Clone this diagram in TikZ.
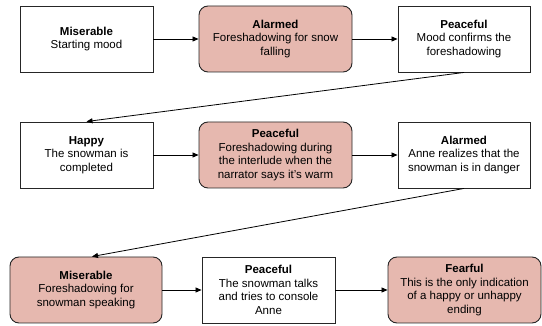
\documentclass[tikz,border=0pt]{standalone}
\usepackage{fontspec}
\setmainfont{Liberation Sans}
\usetikzlibrary{arrows.meta}
\begin{document}
\begin{tikzpicture}[x=1pt,y=-1pt,
  box/.style={draw=black!85, line width=0.9pt, fill=white, align=center, inner sep=0pt,
    font=\fontsize{11.5}{13.6}\selectfont},
  hot/.style={box, fill=pinkfill, rounded corners=9pt},
  conn/.style={draw=black, line width=0.8pt, -{Triangle[length=6pt,width=5pt]}}]
\definecolor{pinkfill}{HTML}{E6B8AF}
\useasboundingbox (0,0) rectangle (542,326);
% row 1
\node[box, minimum width=133, minimum height=66] (a) at (86.5,39) {\textbf{Miserable}\\Starting mood};
\node[hot, minimum width=153, minimum height=66] (b) at (275.5,39) {\textbf{Alarmed}\\Foreshadowing for snow\\falling};
\node[box, minimum width=132, minimum height=66] (c) at (464,39) {\textbf{Peaceful}\\Mood confirms the\\foreshadowing};
% row 2
\node[box, minimum width=133, minimum height=66] (d) at (86.5,155) {\textbf{Happy}\\The snowman is\\completed};
\node[hot, minimum width=153, minimum height=66] (e) at (275.5,155) {\textbf{Peaceful}\\Foreshadowing during\\the interlude when the\\narrator says it’s warm};
\node[box, minimum width=132, minimum height=66] (f) at (464,155) {\textbf{Alarmed}\\Anne realizes that the\\snowman is in danger};
% row 3
\node[hot, minimum width=152, minimum height=66] (g) at (86,290) {\textbf{Miserable}\\Foreshadowing for\\snowman speaking};
\node[box, minimum width=133, minimum height=66] (h) at (268.5,290) {\textbf{Peaceful}\\The snowman talks\\and tries to console\\Anne};
\node[hot, minimum width=153, minimum height=66] (i) at (464.5,290) {\textbf{Fearful}\\This is the only indication\\of a happy or unhappy\\ending};
% connectors
\draw[conn] (a) -- (b);
\draw[conn] (b) -- (c);
\draw[conn] (c.south) -- (d.north);
\draw[conn] (d) -- (e);
\draw[conn] (e) -- (f);
\draw[conn] (f.south) -- ([xshift=6]g.north);
\draw[conn] (g) -- (h);
\draw[conn] (h) -- (i);
\end{tikzpicture}
\end{document}
